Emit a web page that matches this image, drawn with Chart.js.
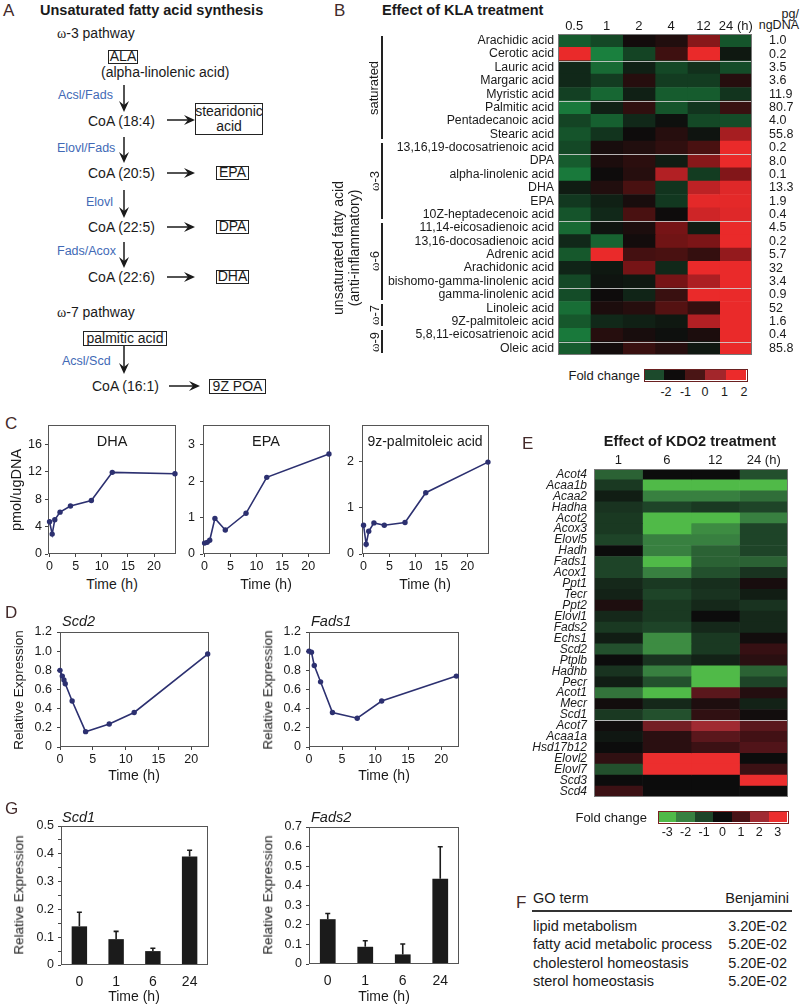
<!DOCTYPE html>
<html>
<head>
<meta charset="utf-8">
<title>Unsaturated fatty acid synthesis after KLA / KDO2 treatment</title>
<script src="https://cdn.jsdelivr.net/npm/chart.js@4.4.1/dist/chart.umd.min.js"></script>
<style>
  body { margin: 0; background: #fff; }
  #page { position: relative; width: 800px; height: 1005px; overflow: hidden;
          font-family: "Liberation Sans", Arial, sans-serif; color: #1a1a1a; }
  .t { position: absolute; white-space: nowrap; line-height: 1; }
  .w { font-family: "Liberation Serif", "DejaVu Serif", serif; }
  .bx { position: absolute; border: 1.4px solid #222; box-sizing: border-box; line-height: 1.1;
        display: flex; align-items: center; justify-content: center; text-align: center; }
  canvas { position: absolute; }
  svg { position: absolute; left: 0; top: 0; }
</style>
</head>
<body>
<div id="page"></div>
<script>
// ---------- data ----------
const klaTimes = ['0.5', '1', '2', '4', '12', '24 (h)'];
const klaAcids = ['Arachidic acid', 'Cerotic acid', 'Lauric acid', 'Margaric acid', 'Myristic acid',
  'Palmitic acid', 'Pentadecanoic acid', 'Stearic acid', '13,16,19-docosatrienoic acid', 'DPA',
  'alpha-linolenic acid', 'DHA', 'EPA', '10Z-heptadecenoic acid', '11,14-eicosadienoic acid',
  '13,16-docosadienoic acid', 'Adrenic acid', 'Arachidonic acid', 'bishomo-gamma-linolenic acid',
  'gamma-linolenic acid', 'Linoleic acid', '9Z-palmitoleic acid', '5,8,11-eicosatrienoic acid', 'Oleic acid'];
const klaAmounts = ['1.0', '0.2', '3.5', '3.6', '11.9', '80.7', '4.0', '55.8', '0.2', '8.0', '0.1', '13.3',
  '1.9', '0.4', '4.5', '0.2', '5.7', '32', '3.4', '0.9', '52', '1.6', '0.4', '85.8'];
// fold change, one row per acid, one column per time point
const klaFold = [
  [-2.0, -1.5, 0.1, 0.4, 2.3, -1.8],
  [4.0, -3.2, -1.4, 1.0, 4.0, -0.3],
  [-0.7, -2.4, -0.5, -1.5, -0.9, -1.6],
  [-0.7, -1.2, 0.5, -1.2, -1.2, 0.5],
  [-1.3, -2.3, -0.5, -2.0, -2.0, -1.0],
  [-2.8, -0.5, 0.7, -1.8, -1.0, 0.9],
  [-1.4, -2.1, -0.7, -0.1, -1.5, -1.6],
  [-1.8, -1.0, 0.0, 0.5, -0.2, 2.8],
  [-1.5, 0.2, 0.4, 0.7, 1.2, 4.0],
  [-2.0, 0.3, 0.6, -0.4, 2.3, 4.0],
  [-2.8, 0.0, 0.5, 3.0, -1.2, 2.2],
  [-0.4, 0.4, 1.2, -1.0, 3.2, 3.8],
  [-1.1, -0.5, 0.2, -1.1, 3.9, 3.9],
  [-1.8, -0.7, 1.2, 0.0, 3.5, 3.8],
  [-2.4, -0.2, 0.3, 2.0, -0.4, 4.0],
  [-0.7, -2.2, 0.1, 1.9, 2.1, 4.0],
  [-1.9, 4.0, 1.1, 1.2, 0.8, 2.5],
  [-0.6, -0.3, 2.0, -0.7, 4.0, 4.0],
  [-1.5, -0.2, -0.3, 2.0, 2.9, 4.0],
  [-1.6, 0.0, -0.6, 0.9, 4.0, 4.0],
  [-2.5, 0.3, 0.5, 1.4, 0.8, 4.0],
  [-1.9, -0.7, -0.5, -0.3, 3.0, 4.0],
  [-2.8, 0.5, 0.2, -0.1, 0.3, 4.0],
  [-2.0, 0.1, 0.9, 0.5, -0.3, 4.0]
];
const klaScale = ['-2', '-1', '0', '1', '2'];

const kdoTimes = ['1', '6', '12', '24 (h)'];
const kdoGenes = ['Acot4', 'Acaa1b', 'Acaa2', 'Hadha', 'Acot2', 'Acox3', 'Elovl5', 'Hadh', 'Fads1', 'Acox1',
  'Ppt1', 'Tecr', 'Ppt2', 'Elovl1', 'Fads2', 'Echs1', 'Scd2', 'Ptplb', 'Hadhb', 'Pecr', 'Acot1', 'Mecr',
  'Scd1', 'Acot7', 'Acaa1a', 'Hsd17b12', 'Elovl2', 'Elovl7', 'Scd3', 'Scd4'];
const kdoFold = [
  [-1.5, 0.0, 0.0, -1.2], [-0.8, -3.0, -3.0, -3.0], [-0.3, -2.0, -2.0, -1.7], [-0.7, -1.0, -0.8, -1.0],
  [-0.8, -3.0, -3.0, -2.0], [-0.8, -3.0, -2.2, -1.0], [-1.0, -2.0, -2.0, -1.0], [0.0, -2.0, -1.5, -1.0],
  [-1.0, -3.0, -1.5, -1.5], [-1.0, -2.0, -1.2, -0.7], [-0.5, -0.8, -0.6, 0.2], [-0.4, -1.0, -0.7, -0.3],
  [0.3, -0.8, -0.5, -0.7], [-0.5, -0.8, 0.0, -0.5], [-0.8, -1.0, -0.5, -0.5], [-0.3, -2.2, -0.8, 0.1],
  [-1.2, -2.2, -0.8, 0.7], [0.0, -0.7, -0.4, 0.5], [-0.7, -2.0, -3.0, -1.5], [-0.3, -1.2, -3.0, -1.0],
  [-1.8, -3.0, 1.2, 0.4], [0.1, -0.5, 0.3, -0.4], [-0.8, -1.2, 0.6, 0.1], [0.1, 1.5, 2.0, 1.2],
  [-0.2, 0.5, 1.2, 0.9], [0.0, 0.5, 0.8, 1.1], [0.6, 3.0, 3.0, 0.0], [-1.2, 3.0, 3.0, 0.8],
  [0.0, 0.0, 0.0, 3.0], [0.8, 0.0, 0.0, 0.0]
];
const kdoScale = [-3, -2, -1, 0, 1, 2, 3];

const courseHours = [0, 0.5, 1, 2, 4, 8, 12, 24];
const dhaLevel = [4.7, 2.9, 5.0, 6.1, 7.0, 7.8, 11.9, 11.7];
const epaLevel = [0.3, 0.32, 0.38, 0.98, 0.66, 1.12, 2.11, 2.75];
const poaLevel = [0.62, 0.21, 0.49, 0.67, 0.62, 0.68, 1.32, 1.98];

const scd2Hours = [0, 0.35, 0.6, 0.8, 1.85, 3.9, 7.5, 11.3, 22.5];
const scd2Expr = [0.80, 0.74, 0.70, 0.66, 0.48, 0.16, 0.24, 0.36, 0.97];
const fads1Hours = [0, 0.37, 0.8, 1.75, 3.55, 7.3, 11, 22.3];
const fads1Expr = [1.0, 0.99, 0.85, 0.68, 0.36, 0.30, 0.48, 0.74];

const qpcrTimes = ['0', '1', '6', '24'];
const scd1Expr = [0.139, 0.093, 0.050, 0.390];
const scd1Err = [0.051, 0.028, 0.010, 0.023];
const fads2Expr = [0.229, 0.088, 0.049, 0.436];
const fads2Err = [0.029, 0.031, 0.053, 0.163];
const scd1Ticks = [0, 0.05, 0.1, 0.15, 0.2, 0.25, 0.3, 0.35, 0.4, 0.45, 0.5];
const fads2Ticks = [0, 0.1, 0.2, 0.3, 0.4, 0.5, 0.6, 0.7];

const goTerms = ['lipid metabolism', 'fatty acid metabolic process', 'cholesterol homeostasis', 'sterol homeostasis'];
const goBenjamini = ['3.20E-02', '5.20E-02', '5.20E-02', '5.20E-02'];

// ---------- helpers ----------
const page = document.getElementById('page');
const NAVY = 'rgb(44,48,112)';
Chart.defaults.font.family = '"Liberation Sans", Arial, sans-serif';
Chart.defaults.color = '#1a1a1a';
Chart.defaults.animation = false;
Chart.defaults.plugins.legend.display = false;
Chart.defaults.plugins.tooltip.enabled = false;

function txt(html, x, y, o = {}) {
  const d = document.createElement('div');
  d.className = 't';
  d.innerHTML = html;
  d.style.left = x + 'px';
  d.style.top = y + 'px';
  d.style.fontSize = (o.size || 13) + 'px';
  if (o.bold) d.style.fontWeight = 'bold';
  if (o.italic) d.style.fontStyle = 'italic';
  if (o.color) d.style.color = o.color;
  const tx = o.align === 'r' ? '-100%' : o.align === 'c' ? '-50%' : '0';
  d.style.transform = 'translate(' + tx + ',-50%)' + (o.rot ? ' rotate(-90deg)' : '');
  page.appendChild(d);
  return d;
}

function box(html, x, y, w, h, size) {
  const d = document.createElement('div');
  d.className = 'bx';
  d.style.left = x + 'px'; d.style.top = y + 'px';
  d.style.width = w + 'px'; d.style.height = h + 'px';
  d.style.fontSize = (size || 14) + 'px';
  d.innerHTML = html;
  page.appendChild(d);
}

function mount(a, padL, padT, padR, padB) {
  const c = document.createElement('canvas');
  const w = a.r - a.l + padL + padR, h = a.b - a.t + padT + padB;
  c.width = w; c.height = h;
  c.style.left = (a.l - padL) + 'px'; c.style.top = (a.t - padT) + 'px';
  c.style.width = w + 'px'; c.style.height = h + 'px';
  page.appendChild(c);
  return c;
}

const fixW = w => s => { s.width = w; s.paddingTop = 0; s.paddingBottom = 0; };
const fixH = h => s => { s.height = h; s.paddingLeft = 0; s.paddingRight = 0; };

function ramp(stops) {
  return v => {
    if (v <= stops[0][0]) return 'rgb(' + stops[0][1] + ')';
    for (let i = 1; i < stops.length; i++) {
      const [v1, c1] = stops[i], [v0, c0] = stops[i - 1];
      if (v <= v1) {
        const f = (v - v0) / (v1 - v0);
        return 'rgb(' + c0.map((c, k) => Math.round(c + (c1[k] - c) * f)).join(',') + ')';
      }
    }
    return 'rgb(' + stops[stops.length - 1][1] + ')';
  };
}
const klaColour = ramp([[-3, [26, 128, 62]], [-2, [22, 92, 46]], [-1, [18, 52, 30]], [0, [14, 12, 12]],
  [1, [62, 16, 16]], [2, [118, 20, 22]], [3, [178, 32, 36]], [4, [234, 42, 42]]]);
const kdoColour = ramp([[-3, [80, 186, 72]], [-2, [56, 128, 64]], [-1, [30, 68, 40]], [0, [12, 12, 12]],
  [1, [72, 18, 22]], [2, [160, 42, 50]], [3, [236, 46, 46]]]);

const tickGrid = () => ({ drawOnChartArea: false, drawTicks: true, tickLength: 3, color: '#444' });

function strokeFrame(chart, colour) {
  const { ctx, chartArea: a } = chart;
  ctx.save();
  ctx.strokeStyle = colour;
  ctx.lineWidth = 1;
  ctx.strokeRect(Math.round(a.left) + 0.5, Math.round(a.top) + 0.5, Math.round(a.width) - 1, Math.round(a.height) - 1);
  ctx.restore();
}

const frameBelow = {
  id: 'frameBelow',
  beforeDatasetsDraw(chart) { strokeFrame(chart, '#555'); }
};

const frameAbove = {
  id: 'frameAbove',
  afterDatasetsDraw(chart) { strokeFrame(chart, '#777'); }
};

const rowLines = {
  id: 'rowLines',
  afterDatasetsDraw(chart, args, o) {
    const { ctx, chartArea: a, scales: { y } } = chart;
    ctx.save();
    ctx.strokeStyle = 'rgba(210,210,210,0.85)';
    ctx.lineWidth = 1;
    (o.after || []).forEach(k => {
      const py = Math.round((y.getPixelForValue(k - 1) + y.getPixelForValue(k)) / 2) + 0.5;
      ctx.beginPath(); ctx.moveTo(a.left, py); ctx.lineTo(a.right, py); ctx.stroke();
    });
    ctx.restore();
  }
};

// whiskers above each bar, plus the box round the plot
const errorBars = {
  id: 'errorBars',
  afterDatasetsDraw(chart, args, o) {
    const { ctx, scales: { y } } = chart;
    const vals = chart.data.datasets[0].data;
    ctx.save();
    ctx.strokeStyle = '#1b1b1b';
    ctx.lineWidth = 1.6;
    chart.getDatasetMeta(0).data.forEach((bar, i) => {
      const top = y.getPixelForValue(vals[i] + o.errors[i]);
      ctx.beginPath();
      ctx.moveTo(bar.x, bar.y); ctx.lineTo(bar.x, top);
      ctx.moveTo(bar.x - 2.5, top); ctx.lineTo(bar.x + 2.5, top);
      ctx.stroke();
    });
    ctx.restore();
  },
  afterDraw(chart) { strokeFrame(chart, '#555'); }
};

const dec1 = v => (Math.abs(v) < 1e-9 ? '0' : v.toFixed(1));

function lineChart(a, hours, values, xr, yr) {
  const cv = mount(a, yr.w, 9, 3, 22);
  new Chart(cv, {
    type: 'line',
    data: { datasets: [{ data: hours.map((h, i) => ({ x: h, y: values[i] })),
      borderColor: NAVY, backgroundColor: NAVY, pointBackgroundColor: NAVY, borderWidth: 1.6,
      pointRadius: 2.7, pointHoverRadius: 2.7, pointBorderWidth: 0, clip: false }] },
    options: {
      responsive: false,
      layout: { padding: { top: 9, right: 3 } },
      scales: {
        x: { type: 'linear', min: xr.min, max: xr.max, grid: tickGrid(), border: { display: false },
             ticks: { stepSize: 5, includeBounds: false, maxRotation: 0, padding: 2, font: { size: 12.5 } },
             afterFit: fixH(22) },
        y: { type: 'linear', min: yr.min, max: yr.max, grid: tickGrid(), border: { display: false },
             ticks: { stepSize: yr.step, includeBounds: false, padding: yr.pad, font: { size: 12.5 }, callback: yr.fmt },
             afterFit: fixW(yr.w) }
      }
    },
    plugins: [frameBelow]
  });
}

function barChart(a, values, errs, yTicks) {
  const cv = mount(a, 40, 16, 3, 26);
  new Chart(cv, {
    type: 'bar',
    data: { labels: qpcrTimes, datasets: [{ data: values, backgroundColor: '#1b1b1b',
      barPercentage: 0.42, categoryPercentage: 1 }] },
    options: {
      responsive: false,
      layout: { padding: { top: 16, right: 3 } },
      plugins: { errorBars: { errors: errs } },
      scales: {
        x: { grid: { display: false, drawTicks: false }, border: { display: false },
             ticks: { padding: 9, font: { size: 14 } }, afterFit: fixH(26) },
        y: { type: 'linear', min: yTicks[0], max: yTicks[yTicks.length - 1],
             grid: { drawOnChartArea: false, tickLength: 3, color: '#444' }, border: { display: false },
             afterBuildTicks: s => { s.ticks = yTicks.map(v => ({ value: v })); },
             ticks: { autoSkip: false, z: 1, padding: 4, font: { size: 12.5 }, color: '#1a1a1a',
                      callback: v => (Math.round(v * 100) % 10 === 0 ? dec1(v) : '') },
             afterFit: fixW(40) }
      }
    },
    plugins: [errorBars]
  });
}

function heatmap(a, rows, cols, fold, colour, o) {
  const cv = mount(a, o.wy, 20, o.wr, 1);
  const datasets = cols.map((c, j) => ({
    data: rows.map(r => ({ x: [j, j + 1], y: r })),
    backgroundColor: rows.map((r, i) => colour(fold[i][j])),
    borderWidth: 0, barPercentage: 1, categoryPercentage: 1, grouped: false
  }));
  const scales = {
    x: { type: 'linear', position: 'top', min: 0, max: cols.length,
         grid: { display: false, drawTicks: false }, border: { display: false },
         afterBuildTicks: s => { s.ticks = cols.map((c, j) => ({ value: j + 0.5 })); },
         ticks: { autoSkip: false, maxRotation: 0, padding: o.colPad, font: { size: 13 }, callback: (v, i) => cols[i] },
         afterFit: fixH(20) },
    y: { type: 'category', labels: rows, grid: { display: false, drawTicks: false }, border: { display: false },
         ticks: { autoSkip: false, padding: o.pad, font: o.rowFont }, afterFit: fixW(o.wy) }
  };
  if (o.amounts) {
    scales.y2 = { type: 'category', labels: o.amounts, position: 'right', offset: true,
      grid: { display: false, drawTicks: false }, border: { display: false },
      ticks: { autoSkip: false, padding: 17, font: { size: 12.5 } }, afterFit: fixW(o.wr) };
  }
  new Chart(cv, {
    type: 'bar',
    data: { labels: rows, datasets },
    options: {
      indexAxis: 'y',
      responsive: false,
      layout: { padding: { right: o.amounts ? 0 : o.wr, bottom: 1 } },
      plugins: { rowLines: { after: o.lines } },
      scales
    },
    plugins: [rowLines, frameAbove]
  });
}

// ---------- A : pathway diagram ----------
const LETTER = '#432a2a';
const BLUE = 'rgb(66,106,182)';
txt('A', 3, 10, { size: 17, color: LETTER });
txt('Unsaturated fatty acid synthesis', 40, 10, { size: 14.5, bold: true });
txt('<span class="w">&omega;</span>-3 pathway', 57, 33, { size: 14 });
box('ALA', 108, 50, 30, 14, 14);
txt('(alpha-linolenic acid)', 101, 72, { size: 14 });
txt('Acsl/Fads', 58, 95, { size: 12.5, color: BLUE });
txt('CoA (18:4)', 88, 121, { size: 14 });
box('stearidonic<br>acid', 195, 103, 68, 32, 14);
txt('Elovl/Fads', 57, 148, { size: 12.5, color: BLUE });
txt('CoA (20:5)', 88, 173, { size: 14 });
box('EPA', 216, 166, 33, 14, 14);
txt('Elovl', 86, 202, { size: 12.5, color: BLUE });
txt('CoA (22:5)', 88, 227, { size: 14 });
box('DPA', 216, 220, 33, 14, 14);
txt('Fads/Acox', 57, 251, { size: 12.5, color: BLUE });
txt('CoA (22:6)', 88, 277, { size: 14 });
box('DHA', 216, 270, 33, 14, 14);
txt('<span class="w">&omega;</span>-7 pathway', 57, 312, { size: 14 });
box('palmitic acid', 83, 331, 84, 15, 14);
txt('Acsl/Scd', 62, 361, { size: 12.5, color: BLUE });
txt('CoA (16:1)', 92, 386, { size: 14 });
box('9Z POA', 209, 379, 57, 15, 14);

const NS = 'http://www.w3.org/2000/svg';
const svg = document.createElementNS(NS, 'svg');
svg.setAttribute('width', 300); svg.setAttribute('height', 400);
function el(name, attrs) {
  const e = document.createElementNS(NS, name);
  Object.entries(attrs).forEach(([k, v]) => e.setAttribute(k, v));
  svg.appendChild(e);
}
function arrowV(x, y0, y1) {
  el('line', { x1: x, y1: y0, x2: x, y2: y1 - 6, stroke: '#1a1a1a', 'stroke-width': 1.5 });
  el('polygon', { points: `${x - 5},${y1 - 11} ${x},${y1} ${x + 5},${y1 - 11} ${x},${y1 - 7}`, fill: '#1a1a1a' });
}
function arrowH(x0, x1, y) {
  el('line', { x1: x0, y1: y, x2: x1 - 6, y2: y, stroke: '#1a1a1a', 'stroke-width': 1.5 });
  el('polygon', { points: `${x1 - 11},${y - 5} ${x1},${y} ${x1 - 11},${y + 5} ${x1 - 7},${y}`, fill: '#1a1a1a' });
}
[[85, 112], [137, 163], [190, 218], [242, 268], [346, 374]].forEach(([a, b]) => arrowV(124, a, b));
[120, 173, 227, 277].forEach(y => arrowH(167, 195, y));
arrowH(169, 200, 386);
page.appendChild(svg);

// ---------- B : KLA heatmap ----------
txt('B', 334, 10, { size: 17, color: LETTER });
txt('Effect of KLA treatment', 382, 10, { size: 14.5, bold: true });
txt('pg/', 799, 14, { size: 12.5, align: 'r' });
txt('ngDNA', 799, 25, { size: 12.5, align: 'r' });
heatmap({ l: 558, t: 34, r: 752, b: 355 }, klaAcids, klaTimes, klaFold, klaColour,
  { wy: 200, wr: 48, pad: 4, colPad: 0, rowFont: { size: 12.3 }, amounts: klaAmounts, lines: [2, 5, 9, 14, 19, 23] });

function bracket(x, y0, y1) {
  const d = document.createElement('div');
  d.style.cssText = `position:absolute;left:${x}px;top:${y0}px;width:1.5px;height:${y1 - y0}px;background:#222;`;
  page.appendChild(d);
}
const rowH = (355 - 34) / klaAcids.length;
const rowY = i => 34 + i * rowH;
[[0, 8], [8, 14], [14, 20], [20, 22], [22, 24]].forEach(([s, e]) => bracket(381, rowY(s) + 2, rowY(e) - 2));
txt('saturated', 373, (rowY(0) + rowY(8)) / 2, { size: 13, align: 'c', rot: true });
txt('<span class="w">&omega;</span>-3', 374, (rowY(8) + rowY(14)) / 2, { size: 13, align: 'c', rot: true });
txt('<span class="w">&omega;</span>-6', 374, (rowY(14) + rowY(20)) / 2, { size: 13, align: 'c', rot: true });
txt('<span class="w">&omega;</span>-7', 374, (rowY(20) + rowY(22)) / 2, { size: 13, align: 'c', rot: true });
txt('<span class="w">&omega;</span>-9', 374, (rowY(22) + rowY(24)) / 2, { size: 13, align: 'c', rot: true });
txt('unsaturated fatty acid', 338, (rowY(8) + rowY(24)) / 2, { size: 14, align: 'c', rot: true });
txt('(anti-inflammatory)', 354, (rowY(8) + rowY(24)) / 2, { size: 14, align: 'c', rot: true });

// KLA colour key
const klaKeyColours = ['#1c4a2c', '#0e0c0c', '#4a1515', '#a3262b', '#ec2b2b'];
txt('Fold change', 640, 374.5, { size: 13, align: 'r' });
klaKeyColours.forEach((c, i) => {
  const d = document.createElement('div');
  d.style.cssText = `position:absolute;left:${644 + i * 20.4}px;top:369px;width:20.4px;height:11px;background:${c};`;
  page.appendChild(d);
});
const keyB = document.createElement('div');
keyB.style.cssText = 'position:absolute;left:643.5px;top:368.5px;width:102px;height:11px;border:1px solid #6a2020;';
page.appendChild(keyB);
klaScale.forEach((s, i) => txt(s, 666 + i * 19.5, 391.5, { size: 12.5, align: 'c' }));

// ---------- C : metabolite time courses ----------
txt('C', 5, 423, { size: 17, color: LETTER });
const courseX = { min: -0.3, max: 24.2 };
lineChart({ l: 48, t: 425, r: 176, b: 554 }, courseHours, dhaLevel, courseX, { min: 0, max: 18.8, step: 4, w: 36, pad: 3 });
lineChart({ l: 203, t: 425, r: 330, b: 554 }, courseHours, epaLevel, courseX, { min: 0, max: 3.55, step: 1, w: 36, pad: 5 });
lineChart({ l: 362, t: 425, r: 489, b: 554 }, courseHours, poaLevel, courseX, { min: 0, max: 2.78, step: 1, w: 36, pad: 5 });
txt('DHA', 112, 441, { size: 14.5, align: 'c' });
txt('EPA', 266, 441, { size: 14.5, align: 'c' });
txt('9z-palmitoleic acid', 425, 441, { size: 14, align: 'c' });
txt('pmol/ugDNA', 16, 490, { size: 14.5, align: 'c', rot: true });
[112, 266, 425].forEach(x => txt('Time (h)', x, 584, { size: 14, align: 'c' }));

// ---------- D : Scd2 / Fads1 expression ----------
txt('D', 5, 612, { size: 17, color: LETTER });
const exprY = { min: 0, max: 1.2, step: 0.2, w: 40, pad: 5, fmt: dec1 };
lineChart({ l: 60, t: 632, r: 209, b: 747 }, scd2Hours, scd2Expr, { min: 0, max: 22.7 }, exprY);
lineChart({ l: 309, t: 632, r: 459, b: 747 }, fads1Hours, fads1Expr, { min: 0, max: 22.7 }, exprY);
txt('Scd2', 62, 621, { size: 14.5, italic: true });
txt('Fads1', 311, 621, { size: 14.5, italic: true });
txt('Relative Expression', 19, 690, { size: 13.5, align: 'c', rot: true });
txt('Relative Expression', 268, 690, { size: 13.5, align: 'c', rot: true });
txt('Time (h)', 134, 775, { size: 14, align: 'c' });
txt('Time (h)', 384, 775, { size: 14, align: 'c' });

// ---------- G : qPCR bars ----------
txt('G', 5, 808, { size: 17, color: LETTER });
barChart({ l: 61, t: 826, r: 208, b: 965 }, scd1Expr, scd1Err, scd1Ticks);
barChart({ l: 309, t: 827, r: 459, b: 964 }, fads2Expr, fads2Err, fads2Ticks);
txt('Scd1', 62, 817, { size: 14.5, italic: true });
txt('Fads2', 311, 817, { size: 14.5, italic: true });
txt('Relative Expression', 19, 895, { size: 13.5, align: 'c', rot: true });
txt('Relative Expression', 268, 895, { size: 13.5, align: 'c', rot: true });
txt('Time (h)', 134, 996, { size: 14, align: 'c' });
txt('Time (h)', 384, 996, { size: 14, align: 'c' });

// ---------- E : KDO2 heatmap ----------
txt('E', 522, 443, { size: 17, color: LETTER });
txt('Effect of KDO2 treatment', 690, 441, { size: 14.5, bold: true, align: 'c' });
heatmap({ l: 594, t: 469, r: 788, b: 797 }, kdoGenes, kdoTimes, kdoFold, kdoColour,
  { wy: 65, wr: 2, pad: 7, colPad: 1, rowFont: { size: 12, style: 'italic' }, lines: [23] });

txt('Fold change', 647, 816.5, { size: 13, align: 'r' });
kdoScale.forEach((v, i) => {
  const d = document.createElement('div');
  d.style.cssText = `position:absolute;left:${658 + i * 18.43}px;top:811.5px;width:18.43px;height:10.5px;background:${kdoColour(v)};`;
  page.appendChild(d);
  txt(String(v), 667.2 + i * 18.43, 832, { size: 12.5, align: 'c' });
});
const keyE = document.createElement('div');
keyE.style.cssText = 'position:absolute;left:657.5px;top:811px;width:129.5px;height:10.5px;border:1px solid #7a2222;';
page.appendChild(keyE);

// ---------- F : GO table ----------
txt('F', 516, 902, { size: 17, color: LETTER });
txt('GO term', 533, 898, { size: 14.5 });
txt('Benjamini', 789, 898, { size: 14.5, align: 'r' });
const rule = document.createElement('div');
rule.style.cssText = 'position:absolute;left:532px;top:910px;width:260px;height:1.5px;background:#333;';
page.appendChild(rule);
goTerms.forEach((g, i) => {
  const y = 926 + i * 18.4;
  txt(g, 533, y, { size: 14.5 });
  txt(goBenjamini[i], 787, y, { size: 14.5, align: 'r' });
});
</script>
</body>
</html>
